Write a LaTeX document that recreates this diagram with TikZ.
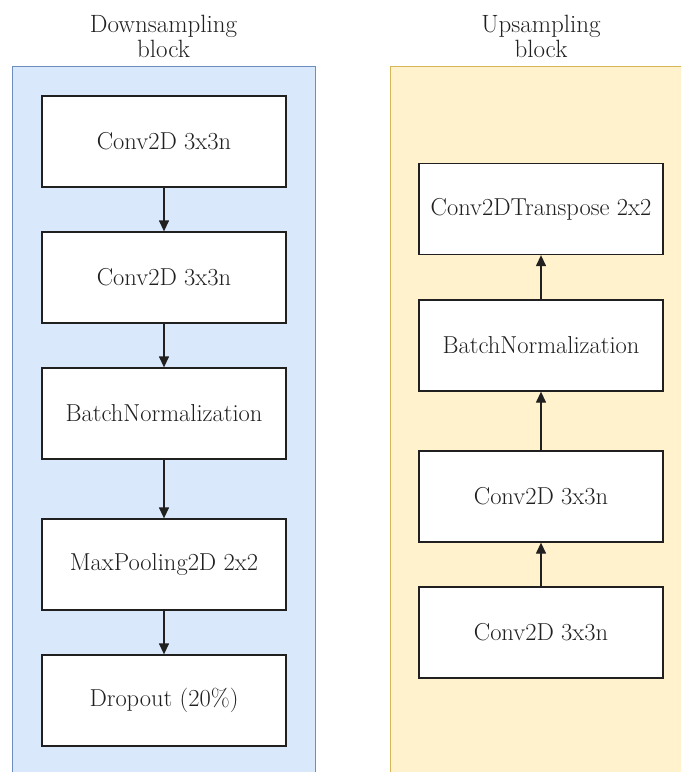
\documentclass[tikz,border=0pt]{standalone}
\usetikzlibrary{arrows.meta}
\definecolor{downfill}{HTML}{DAE8FC}
\definecolor{downline}{HTML}{6C8EBF}
\definecolor{upfill}{HTML}{FFF2CC}
\definecolor{upline}{HTML}{D6B656}
\definecolor{ink}{HTML}{202020}
\begin{document}
\begin{tikzpicture}[x=1pt,y=-1pt,
  layerbox/.style={draw=ink, line width=1.3pt, fill=white, text=ink,
    minimum width=244pt, minimum height=91pt, inner sep=0pt,
    font=\fontsize{24.5}{29}\selectfont},
  title/.style={align=center, anchor=north, inner sep=0pt, text=ink,
    font=\fontsize{25}{25.5}\selectfont},
  flow/.style={draw=ink, line width=1.3pt,
    -{Triangle[length=11pt,width=10pt]}}]
\useasboundingbox (0,0) rectangle (681,772);
\clip (0,0) rectangle (681,772);

% panels (they run past the lower edge)
\draw[downline, fill=downfill, line width=1pt] (12,66) rectangle (315,790);
\draw[upline, fill=upfill, line width=1pt] (390,66) rectangle (700,790);

% titles
\node[title] (tdown) at (163.5,14.5) {Downsampling\\block};
\node[title] (tup) at (541,14.5) {Upsampling\\block};

% downsampling block
\node[layerbox] (d1) at (164,141.5) {Conv2D 3x3n};
\node[layerbox] (d2) at (164,277.5) {Conv2D 3x3n};
\node[layerbox] (d3) at (164,413.5) {BatchNormalization};
\node[layerbox] (d4) at (164,564.5) {MaxPooling2D 2x2};
\node[layerbox] (d5) at (164,700.5) {Dropout (20\%)};
\draw[flow] (d1) -- (d2);
\draw[flow] (d2) -- (d3);
\draw[flow] (d3) -- (d4);
\draw[flow] (d4) -- (d5);

% upsampling block
\node[layerbox] (u1) at (541,632.5) {Conv2D 3x3n};
\node[layerbox] (u2) at (541,496.5) {Conv2D 3x3n};
\node[layerbox] (u3) at (541,345.5) {BatchNormalization};
\node[layerbox] (u4) at (541,209) {Conv2DTranspose 2x2};
\draw[flow] (u1) -- (u2);
\draw[flow] (u2) -- (u3);
\draw[flow] (u3) -- (u4);
\end{tikzpicture}
\end{document}
